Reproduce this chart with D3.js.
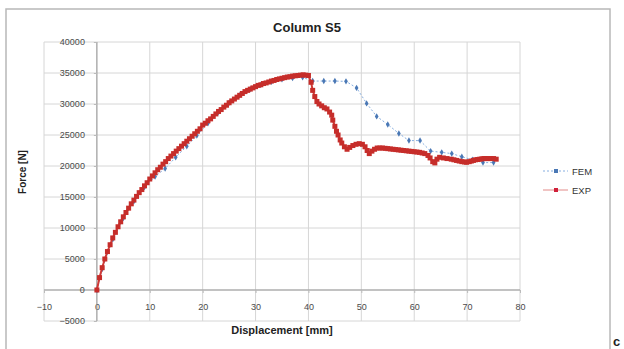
<!DOCTYPE html>
<html>
<head>
<meta charset="utf-8">
<script src="https://cdn.jsdelivr.net/npm/d3@7"></script>
<style>
  body { margin: 0; background: #fff; }
  svg { font-family: "Liberation Sans", Arial, sans-serif; }
</style>
</head>
<body>
<script>
// tick values
var xTicks = [-10, 0, 10, 20, 30, 40, 50, 60, 70, 80];
var yTicks = [-5000, 0, 5000, 10000, 15000, 20000, 25000, 30000, 35000, 40000];

// FEM series (displacement mm, force N)
var femX = [0, 1, 3, 5, 7, 9, 11, 12.9, 14.9, 17, 18.9, 21, 23, 25, 27, 29, 31, 33, 35, 37, 38.9,
            40.8, 42.9, 45, 47.1, 49.1, 51, 52.9, 55, 57.1, 59, 61.1, 63.1, 65.2, 67.1, 69, 71, 73, 75];
var femF = [0, 3400, 8200, 11600, 14300, 16600, 18300, 19600, 21400, 23200, 24900, 26900, 28700, 30200,
            31400, 32400, 33100, 33600, 34000, 34200, 34300,
            33700, 33700, 33700, 33650, 32600, 30100, 28000, 26700, 25250, 24100, 24100, 22400, 22200,
            22000, 21500, 21000, 20550, 20550];

// EXP series
var expX = [0, 0.5, 1, 1.5, 2, 2.5, 3, 3.5, 4, 4.5, 5, 5.5, 6, 6.5, 7, 7.5, 8, 8.5, 9, 9.5,
            10, 10.5, 11, 11.5, 12, 12.5, 13, 13.5, 14, 14.5, 15, 15.5, 16, 16.5, 17, 17.5, 18, 18.5, 19, 19.5,
            20, 20.5, 21, 21.5, 22, 22.5, 23, 23.5, 24, 24.5, 25, 25.5, 26, 26.5, 27, 27.5, 28, 28.5, 29, 29.5,
            30, 30.5, 31, 31.5, 32, 32.5, 33, 33.5, 34, 34.5, 35, 35.5, 36, 36.5, 37, 37.5, 38, 38.5, 39, 39.5,
            40, 40.5, 40.8, 41.2, 41.6, 42, 42.5, 43, 43.5, 44, 44.4, 44.6, 45, 45.3, 45.6, 46, 46.3, 46.8,
            47.3, 47.8, 48.4, 49, 49.6, 50.2, 50.7, 51.1, 51.5, 52, 52.5, 53, 53.5, 54, 54.5, 55, 55.5, 56,
            56.5, 57, 57.5, 58, 58.5, 59, 59.5, 60, 60.5, 61, 61.5, 62, 62.6, 63, 63.5, 63.9, 64.3, 64.8,
            65.5, 66.2, 67, 67.5, 68, 68.5, 69, 69.5, 69.9, 70.4, 70.8, 71.2, 71.6, 72, 72.4, 72.8, 73.2,
            73.6, 74, 74.5, 75, 75.5];
var expF = [0, 2000, 3600, 5000, 6200, 7300, 8400, 9300, 10200, 11000, 11800, 12500, 13200, 13900,
            14500, 15100, 15700, 16200, 16800, 17300,
            17900, 18400, 18900, 19400, 19800, 20300, 20700, 21200, 21600, 22000, 22400, 22800, 23200,
            23600, 24000, 24400, 24800, 25200, 25600, 26000,
            26600, 26900, 27300, 27600, 28000, 28400, 28800, 29100, 29500, 29800, 30200, 30500, 30800,
            31100, 31400, 31700, 32000, 32200, 32400, 32600,
            32800, 33000, 33100, 33300, 33400, 33550, 33700, 33800, 33950, 34050, 34150, 34250, 34350,
            34400, 34500, 34550, 34600, 34650, 34700, 34650,
            34600, 33500, 32200, 31200, 30400, 30000, 29700, 29400, 29200, 28700, 28200, 27400, 26400,
            25600, 25000, 24200, 23700, 23100,
            22700, 23000, 23300, 23500, 23600, 23500, 23100, 22500, 22000, 22400, 22700, 22900, 22900,
            22900, 22850, 22800, 22750, 22700,
            22650, 22600, 22550, 22500, 22450, 22400, 22350, 22300, 22250, 22200, 22100, 22000, 21700,
            21300, 20700, 20500, 21100, 21400,
            21300, 21200, 21100, 21000, 20900, 20800, 20700, 20650, 20600, 20700, 20800, 20900, 21000,
            21050, 21100, 21150, 21200,
            21200, 21200, 21200, 21200, 21100];

var W = 624, H = 349;
var svg = d3.select("body").append("svg")
    .attr("width", W)
    .attr("height", H);

// chart frame
svg.append("rect")
    .attr("x", 6).attr("y", 9)
    .attr("width", 604).attr("height", 350)
    .attr("fill", "#fff")
    .attr("stroke", "#b8b8b8")
    .attr("stroke-width", 1.5);

var x = d3.scaleLinear().domain([-10, 80]).range([44, 520]);
var y = d3.scaleLinear().domain([-5000, 40000]).range([321, 42]);

// gridlines
svg.append("g").selectAll("line.v")
    .data(xTicks)
    .enter().append("line")
    .attr("x1", function(d) { return x(d); })
    .attr("x2", function(d) { return x(d); })
    .attr("y1", y(40000)).attr("y2", y(-5000))
    .attr("stroke", "#d6d6d6");

svg.append("g").selectAll("line.h")
    .data(yTicks)
    .enter().append("line")
    .attr("x1", x(-10)).attr("x2", x(80))
    .attr("y1", function(d) { return y(d); })
    .attr("y2", function(d) { return y(d); })
    .attr("stroke", "#d6d6d6");

// axes cross at zero
var xAxis = svg.append("g")
    .attr("transform", "translate(0," + y(0) + ")")
    .call(d3.axisBottom(x).tickValues(xTicks).tickSize(3).tickPadding(11).tickFormat(d3.format("d")));
var yAxis = svg.append("g")
    .attr("transform", "translate(" + x(0) + ",0)")
    .call(d3.axisLeft(y).tickValues(yTicks).tickSize(3).tickPadding(9).tickFormat(d3.format("d")));

[xAxis, yAxis].forEach(function(a) {
    a.select(".domain").attr("stroke", "#999");
    a.selectAll(".tick line").attr("stroke", "#bbb");
    a.selectAll("text")
        .attr("fill", "#4a4a4a")
        .style("font-size", "9px");
});
yAxis.select(".domain").attr("d", "M0," + y(40000) + "V" + y(-5000));
xAxis.select(".domain").attr("d", "M" + x(-10) + ",0H" + x(80));

// FEM
var femPts = femX.map(function(d, i) { return [d, femF[i]]; });
var expPts = expX.map(function(d, i) { return [d, expF[i]]; });

var line = d3.line()
    .x(function(d) { return x(d[0]); })
    .y(function(d) { return y(d[1]); });

svg.append("path")
    .datum(femPts)
    .attr("d", line)
    .attr("fill", "none")
    .attr("stroke", "#86aee0")
    .attr("stroke-width", 1)
    .attr("stroke-dasharray", "2,2");

svg.append("g").selectAll("path")
    .data(femPts)
    .enter().append("path")
    .attr("d", d3.symbol().type(d3.symbolDiamond).size(12))
    .attr("transform", function(d) { return "translate(" + x(d[0]) + "," + y(d[1]) + ")"; })
    .attr("fill", "#4a78b5");

// EXP
svg.append("path")
    .datum(expPts)
    .attr("d", line)
    .attr("fill", "none")
    .attr("stroke", "#d03a36")
    .attr("stroke-width", 2);

svg.append("g").selectAll("rect")
    .data(expPts)
    .enter().append("rect")
    .attr("x", function(d) { return x(d[0]) - 2.5; })
    .attr("y", function(d) { return y(d[1]) - 2.5; })
    .attr("width", 5).attr("height", 5)
    .attr("fill", "#c62d2a");

// titles
svg.append("text")
    .attr("x", 307).attr("y", 32)
    .attr("text-anchor", "middle")
    .style("font-size", "13px").style("font-weight", "bold")
    .attr("fill", "#222")
    .text("Column S5");

svg.append("text")
    .attr("x", 282).attr("y", 334)
    .attr("text-anchor", "middle")
    .style("font-size", "11px").style("font-weight", "bold")
    .attr("fill", "#222")
    .text("Displacement [mm]");

svg.append("text")
    .attr("transform", "translate(26,172) rotate(-90)")
    .attr("text-anchor", "middle")
    .style("font-size", "10px").style("font-weight", "bold")
    .attr("fill", "#222")
    .text("Force [N]");

// legend
var legend = [
    { name: "FEM", color: "#86aee0", mark: "#4a78b5", dash: "2,2", yy: 171 },
    { name: "EXP", color: "#e28a88", mark: "#d0203a", dash: null, yy: 190 }
];
var lg = svg.append("g").selectAll("g").data(legend).enter().append("g");
lg.append("line")
    .attr("x1", 543).attr("x2", 568)
    .attr("y1", function(d) { return d.yy; })
    .attr("y2", function(d) { return d.yy; })
    .attr("stroke", function(d) { return d.color; })
    .attr("stroke-dasharray", function(d) { return d.dash; });
lg.append("rect")
    .attr("x", 554).attr("y", function(d) { return d.yy - 2; })
    .attr("width", 4).attr("height", 4)
    .attr("fill", function(d) { return d.mark; });
lg.append("text")
    .attr("x", 572).attr("y", function(d) { return d.yy + 3.5; })
    .style("font-size", "9.5px")
    .attr("fill", "#333")
    .text(function(d) { return d.name; });

// stray letter at the page edge
svg.append("text")
    .attr("x", 613).attr("y", 346)
    .style("font-size", "13px").style("font-weight", "bold")
    .attr("fill", "#222")
    .text("c");
</script>
</body>
</html>
